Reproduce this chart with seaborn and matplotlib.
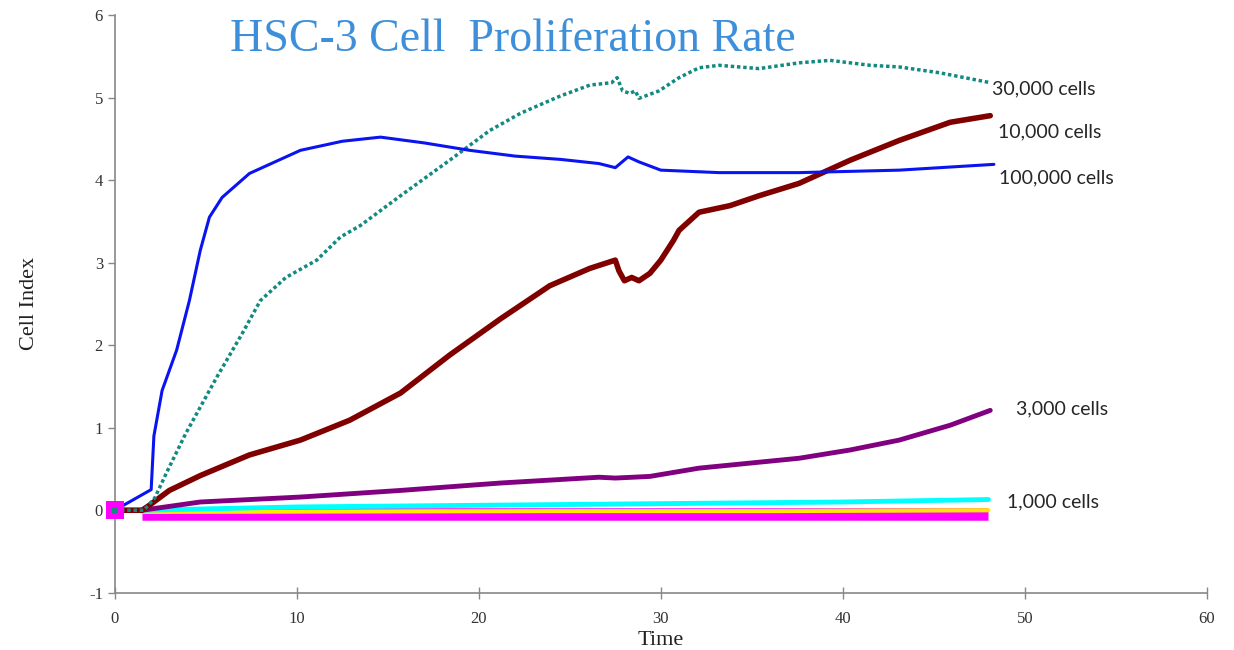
import numpy as np
import pandas as pd
import matplotlib
matplotlib.use("Agg")
import matplotlib.pyplot as plt
import seaborn as sns

# ==========================================
# data (hours, cell index)
# ==========================================
t_100k = [0, 2.0, 2.15, 2.6, 3.4, 4.1, 4.7, 5.2, 5.9, 7.4, 10.2, 12.5, 14.6, 17.0, 19.5,
          22.0, 24.5, 26.6, 27.5, 28.2, 28.8, 30.0, 33.2, 37.6, 43.1, 48.3]
ci_100k = [0, 0.25, 0.90, 1.45, 1.94, 2.54, 3.15, 3.55, 3.79, 4.08, 4.36, 4.47, 4.52, 4.45, 4.36,
           4.29, 4.25, 4.20, 4.15, 4.28, 4.22, 4.12, 4.09, 4.09, 4.12, 4.19]

t_30k = [0, 1.6, 2.2, 2.9, 3.9, 5.6, 7.0, 8.0, 9.4, 11.1, 12.4, 13.5, 15.7, 18.4, 20.6, 22.3,
         24.5, 26.1, 27.3, 27.6, 27.9, 28.3, 28.6, 28.8, 29.9, 31.0, 32.1, 33.2, 35.4, 37.6,
         39.3, 41.5, 43.1, 45.3, 48.1]
ci_30k = [0, 0.0, 0.15, 0.48, 0.93, 1.61, 2.14, 2.54, 2.82, 3.03, 3.31, 3.45, 3.81, 4.24, 4.60, 4.81,
          5.02, 5.15, 5.18, 5.24, 5.08, 5.05, 5.08, 4.99, 5.08, 5.24, 5.36, 5.39, 5.35, 5.42,
          5.45, 5.39, 5.37, 5.30, 5.18]

t_10k = [0, 1.5, 1.9, 3.0, 4.7, 7.4, 10.2, 12.9, 15.7, 18.4, 21.2, 23.9, 26.1, 27.5, 27.7, 28.0,
         28.4, 28.8, 29.4, 30.0, 30.7, 31.0, 32.1, 33.8, 35.4, 37.6, 40.4, 43.1, 45.9, 48.1]
ci_10k = [0, 0.0, 0.06, 0.24, 0.42, 0.67, 0.85, 1.09, 1.42, 1.88, 2.32, 2.72, 2.93, 3.03, 2.90, 2.78,
          2.82, 2.78, 2.87, 3.03, 3.27, 3.39, 3.61, 3.69, 3.81, 3.96, 4.24, 4.48, 4.70, 4.78]

t_3k = [0, 1.5, 4.7, 10.2, 15.7, 21.2, 26.6, 27.5, 29.4, 32.1, 37.6, 40.4, 43.1, 45.9, 48.1]
ci_3k = [0, 0.0, 0.10, 0.16, 0.24, 0.33, 0.40, 0.39, 0.41, 0.51, 0.63, 0.73, 0.85, 1.03, 1.21]

t_1k = [1.5, 10.0, 20.0, 30.0, 40.0, 48.0]
ci_1k = [0.0, 0.04, 0.06, 0.08, 0.10, 0.13]

t_low = [1.5, 12.0, 24.0, 36.0, 48.0]
ci_low = [-0.02, -0.015, -0.01, -0.01, 0.0]

t_blank = [1.5, 12.0, 24.0, 36.0, 48.0]
ci_blank = [-0.04, -0.04, -0.04, -0.04, -0.04]
t_start = [0]
ci_start = [0]

labels = ["30,000 cells", "10,000 cells", "100,000 cells", "3,000 cells", "1,000 cells"]
label_x = [48.2, 48.5, 48.6, 49.5, 49.0]
label_y = [5.11, 4.58, 4.03, 1.23, 0.10]

# ==========================================
# plot
# ==========================================
sns.set_style("white")
plt.rcParams['font.family'] = ['Liberation Serif', 'DejaVu Serif']
plt.rcParams['axes.unicode_minus'] = False

fig = plt.figure(figsize=(12.34, 6.5), dpi=100)
ax = fig.add_axes([0.093, 0.088, 0.885, 0.889])

def draw(t, ci, color, **kw):
    df = pd.DataFrame({"Time": t, "Cell Index": ci})
    sns.lineplot(data=df, x="Time", y="Cell Index", color=color, sort=False,
                 estimator=None, ax=ax, **kw)

draw(t_blank, ci_blank, "#FF00FF", lw=9, solid_capstyle="butt")
sns.scatterplot(x=t_start, y=ci_start, color="#FF00FF", marker="s", s=180,
                linewidth=0, ax=ax, zorder=3, clip_on=False)
draw(t_low, ci_low, "#FFE800", lw=3)
draw(t_1k, ci_1k, "#00FFFF", lw=3.5)
draw(t_3k, ci_3k, "#800080", lw=3.5)
draw(t_10k, ci_10k, "#800000", lw=4)
draw(t_30k, ci_30k, "#138A80", lw=2.5, linestyle=(0, (1, 0.8)))
draw(t_100k, ci_100k, "#0A14F0", lw=2.2)
sns.scatterplot(x=t_start, y=ci_start, color="#138A80", marker="s", s=25,
                linewidth=0, ax=ax, zorder=4, clip_on=False)

for lab, lx, ly in zip(labels, label_x, label_y):
    ax.text(lx, ly, lab, fontsize=14, color="#262626", va="center", ha="left",
            family=["Lato", "DejaVu Sans"])

ax.set_xlim(0, 60)
ax.set_ylim(-1, 6)
ax.set_xticks(range(0, 61, 10))
ax.set_yticks(range(-1, 7))
ax.tick_params(axis="both", labelsize=12, labelcolor="#333333", length=5, width=1,
               direction="out", color="#888888", bottom=True, left=True)
ax.tick_params(axis="x", direction="inout", length=8, pad=9)
for s in ["top", "right"]:
    ax.spines[s].set_visible(False)
for s in ["left", "bottom"]:
    ax.spines[s].set_color("#888888")
    ax.spines[s].set_linewidth(1.2)

ax.set_xlabel("Time", fontsize=16, color="#222222", labelpad=3)
ax.set_ylabel("Cell Index", fontsize=16, color="#222222", labelpad=36)

fig.text(230 / 1234, 1 - 40 / 650, "HSC-3 Cell  Proliferation Rate", fontsize=33,
         color="#3E8FD9", va="center", ha="left")

fig.savefig("out.png", dpi=100)
